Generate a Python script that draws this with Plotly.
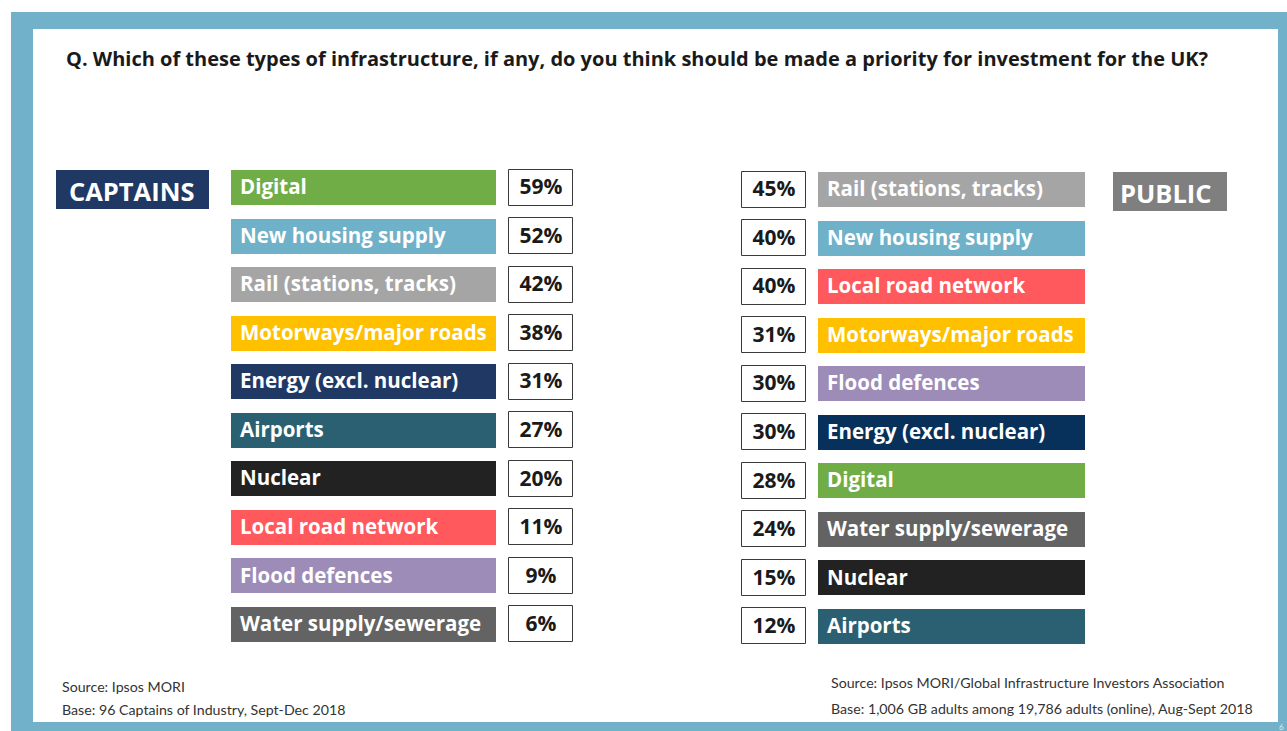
import plotly.graph_objects as go

# ---- data -------------------------------------------------------------
title_text = ("Q. Which of these types of infrastructure, if any, do you think "
              "should be made a priority for investment for the UK?")

captains_items = ["Digital", "New housing supply", "Rail (stations, tracks)",
                  "Motorways/major roads", "Energy (excl. nuclear)", "Airports",
                  "Nuclear", "Local road network", "Flood defences",
                  "Water supply/sewerage"]
captains_pct = [59, 52, 42, 38, 31, 27, 20, 11, 9, 6]

public_items = ["Rail (stations, tracks)", "New housing supply", "Local road network",
                "Motorways/major roads", "Flood defences", "Energy (excl. nuclear)",
                "Digital", "Water supply/sewerage", "Nuclear", "Airports"]
public_pct = [45, 40, 40, 31, 30, 30, 28, 24, 15, 12]

item_colors = {
    "Digital": "#70ad47",
    "New housing supply": "#6fb1c8",
    "Rail (stations, tracks)": "#a5a5a5",
    "Motorways/major roads": "#ffc000",
    "Energy (excl. nuclear)": "#1f3864",
    "Airports": "#2a6071",
    "Nuclear": "#222222",
    "Local road network": "#ff585d",
    "Flood defences": "#9d8bb8",
    "Water supply/sewerage": "#636363",
}
# the public panel uses a deeper navy for energy
public_colors = dict(item_colors, **{"Energy (excl. nuclear)": "#07305a"})

left_notes = ["Source: Ipsos MORI", "Base: 96 Captains of Industry, Sept-Dec 2018"]
right_notes = ["Source: Ipsos MORI/Global Infrastructure Investors Association",
               "Base: 1,006 GB adults among 19,786 adults (online), Aug-Sept 2018"]

# ---- layout constants (pixel space) ------------------------------------
W, H = 1287, 731
FRAME = "#71b1c9"
ROW_STEP = 48.55
BAR_H = 35
BOX_H = 36

L_ROW0, R_ROW0 = 187.5, 189.5
L_BAR_X0, L_BAR_LEN = 231, 265
L_BOX_X0, L_BOX_W = 509, 64
R_BOX_X0, R_BOX_W = 742, 64
R_BAR_X0, R_BAR_LEN = 818, 267

LABEL_FONT = dict(family="Open Sans", size=20.5, color="white", weight="bold")
PCT_FONT = dict(family="Open Sans", size=21, color="#1a1a1a", weight="bold")

fig = go.Figure()


def add_panel(items, pcts, colors, row0, bar_x0, bar_len, box_x0, box_w):
    ys = [row0 + i * ROW_STEP for i in range(len(items))]
    text_ys = [y + 1.5 for y in ys]
    # coloured category bars
    fig.add_trace(go.Bar(
        orientation="h", y=ys, x=[bar_len] * len(items), base=bar_x0,
        width=BAR_H, marker=dict(color=[colors[c] for c in items], line_width=0),
        hoverinfo="skip", showlegend=False))
    fig.add_trace(go.Scatter(
        x=[bar_x0 + 9] * len(items), y=text_ys, mode="text", text=items,
        textposition="middle right", textfont=LABEL_FONT,
        hoverinfo="skip", showlegend=False))
    # outlined percentage boxes
    fig.add_trace(go.Bar(
        orientation="h", y=ys, x=[box_w] * len(items), base=box_x0,
        width=BOX_H, marker=dict(color="white", line=dict(color="#3a3a3a", width=1)),
        hoverinfo="skip", showlegend=False))
    fig.add_trace(go.Scatter(
        x=[box_x0 + box_w / 2] * len(items), y=text_ys, mode="text",
        text=[f"{p}%" for p in pcts], textposition="middle center",
        textfont=PCT_FONT, hoverinfo="skip", showlegend=False))


add_panel(captains_items, captains_pct, item_colors,
          L_ROW0, L_BAR_X0, L_BAR_LEN, L_BOX_X0, L_BOX_W)
add_panel(public_items, public_pct, public_colors,
          R_ROW0, R_BAR_X0, R_BAR_LEN, R_BOX_X0, R_BOX_W)

shapes = [
    # outer blue frame and white card
    dict(type="rect", xref="x", yref="y", x0=11, x1=W + 2, y0=12, y1=H + 2,
         fillcolor=FRAME, line_width=0, layer="below"),
    dict(type="rect", xref="x", yref="y", x0=33, x1=1278, y0=29, y1=722,
         fillcolor="white", line_width=0, layer="below"),
    # group tags
    dict(type="rect", xref="x", yref="y", x0=56, x1=209, y0=170, y1=209,
         fillcolor="#1f3864", line_width=0, layer="below"),
    dict(type="rect", xref="x", yref="y", x0=1113, x1=1227, y0=172, y1=211,
         fillcolor="#7f7f7f", line_width=0, layer="below"),
]

annotations = [
    dict(x=64, y=58, xref="x", yref="y", text=title_text, showarrow=False,
         xanchor="left", yanchor="middle",
         font=dict(family="Open Sans", size=20, color="#1a1a1a", weight="bold")),
    dict(x=131, y=190.5, xref="x", yref="y", text="CAPTAINS", showarrow=False,
         xanchor="center", yanchor="middle",
         font=dict(family="Open Sans", size=25.5, color="white", weight="bold")),
    dict(x=1166, y=192.5, xref="x", yref="y", text="PUBLIC", showarrow=False,
         xanchor="center", yanchor="middle",
         font=dict(family="Open Sans", size=25.5, color="white", weight="bold")),
    dict(x=1281, y=727, xref="x", yref="y", text="6", showarrow=False,
         xanchor="center", yanchor="middle",
         font=dict(family="Lato", size=8, color="#d8ecf3")),
]

note_font = dict(family="Lato", size=14.2, color="#333333")
for i, t in enumerate(left_notes):
    annotations.append(dict(x=60, y=686 + i * 23, xref="x", yref="y", text=t,
                            showarrow=False, xanchor="left", yanchor="middle",
                            font=note_font))
for i, t in enumerate(right_notes):
    annotations.append(dict(x=829, y=682 + i * 26, xref="x", yref="y", text=t,
                            showarrow=False, xanchor="left", yanchor="middle",
                            font=note_font))

fig.update_layout(
    width=W, height=H,
    margin=dict(l=0, r=0, t=0, b=0),
    paper_bgcolor="white", plot_bgcolor="rgba(0,0,0,0)",
    barmode="overlay", bargap=0,
    xaxis=dict(range=[0, W], visible=False, fixedrange=True),
    yaxis=dict(range=[H, 0], visible=False, fixedrange=True),
    shapes=shapes, annotations=annotations,
    showlegend=False,
)

fig.write_html("out.html")
